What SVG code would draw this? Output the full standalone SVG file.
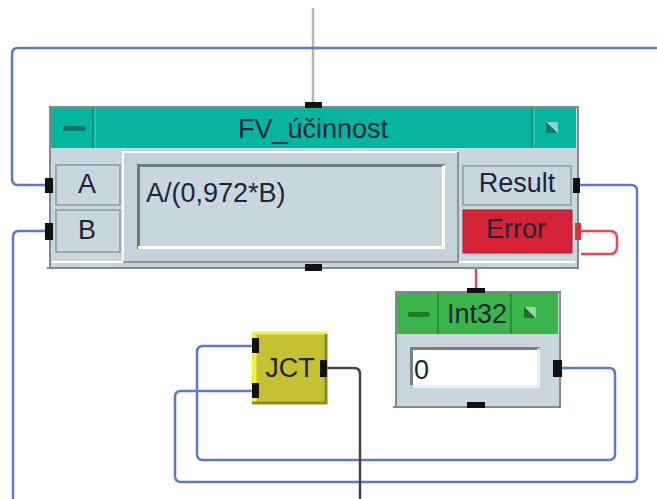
<svg xmlns="http://www.w3.org/2000/svg" width="657" height="499" viewBox="0 0 657 499">
<style>
.w{fill:none;stroke:#5f79c8;stroke-width:2.5}
.r{fill:none;stroke:#e8475a;stroke-width:2.5}
.port{fill:#111}
.lbl{font-family:"Liberation Sans",Arial,sans-serif;font-size:27px;fill:#1c2636;stroke:currentColor;stroke-width:0}
.frame{fill:#c9d6de;stroke:#7f8d8f;stroke-width:2}
.btnbox{fill:#c9d6de;stroke:#8c9a9c;stroke-width:1.5}
</style>
<defs>
<linearGradient id="ic" x1="0" y1="1" x2="1" y2="0">
<stop offset="0.5" stop-color="#0a7a6b"/><stop offset="0.5" stop-color="#8fd3c8"/>
</linearGradient>
<linearGradient id="icg" x1="0" y1="1" x2="1" y2="0">
<stop offset="0.5" stop-color="#1d6e2a"/><stop offset="0.5" stop-color="#93d49a"/>
</linearGradient>
</defs>

<g id="connectors">
<path d="M313 8V102" fill="none" stroke="#b5b5b5" stroke-width="2.5"/>
<path class="w" d="M657 48H18Q12 48 12 54V179Q12 185 18 185H45"/>
<path class="w" d="M45 231H19Q13 231 13 237V499"/>
<path class="w" d="M580 185H631Q637 185 637 191V476Q637 482 631 482H181Q175 482 175 476V397Q175 391 181 391H252"/>
<path class="w" d="M562 368H609Q615 368 615 374V454Q615 460 609 460H203Q197 460 197 454V352Q197 346 203 346H252"/>
<path d="M327 368H354Q360 368 360 374V499" fill="none" stroke="#444" stroke-width="2.5"/>
<path class="r" d="M581 231H610Q617 231 617 239V246Q617 254 610 254H581"/>
<path class="r" d="M476 268V289"/>
</g>

<g id="fv_ucinnost">
<rect class="frame" x="50" y="107" width="528" height="161"/>
<path d="M47 268H578" stroke="#7f8d8f" stroke-width="2"/>
<path d="M52 262H575" stroke="#fff" stroke-width="2"/>
<rect x="51" y="108" width="525" height="40" fill="#06b5a0"/>
<path d="M93 108V148M532 108V148" stroke="#05907f" stroke-width="2"/>
<path d="M95 108V148M534 108V148" stroke="#4fd0c0" stroke-width="1"/>
<rect x="63" y="126" width="23" height="5" rx="2" fill="#0a7868"/>
<rect x="546" y="122" width="12" height="11" fill="url(#ic)"/>
<text class="lbl" x="313" y="138" text-anchor="middle" font-size="28" fill="#0c2a2c">FV_účinnost</text>
<rect class="btnbox" x="56" y="165" width="64" height="40"/>
<text class="lbl" x="87" y="193" text-anchor="middle">A</text>
<rect class="btnbox" x="56" y="210" width="64" height="42"/>
<text class="lbl" x="87" y="239" text-anchor="middle">B</text>
<rect x="123" y="152" width="335" height="110" fill="#c5d2da"/>
<path d="M123 262V152H458" fill="none" stroke="#fff" stroke-width="2"/>
<path d="M458 152V262H123" fill="none" stroke="#8a9799" stroke-width="2"/>
<rect x="137" y="164" width="308" height="85" fill="#c9d6de"/>
<path d="M138.5 249V165.5H445" fill="none" stroke="#707b7d" stroke-width="3"/>
<path d="M443.5 165.5V247.5H138" fill="none" stroke="#fff" stroke-width="3"/>
<text class="lbl" x="146" y="202" fill="#111">A/(0,972*B)</text>
<rect class="btnbox" x="463" y="166" width="108" height="39"/>
<text class="lbl" x="517" y="192" text-anchor="middle">Result</text>
<rect x="463" y="210" width="109" height="43" fill="#d62236" stroke="#a8202c" stroke-width="1"/>
<text class="lbl" x="516" y="238" text-anchor="middle" fill="#3a0a10">Error</text>
<rect class="port" x="305" y="102" width="17" height="6"/>
<rect class="port" x="305" y="264" width="17" height="7"/>
<rect class="port" x="45" y="178" width="8" height="15"/>
<rect class="port" x="45" y="223" width="8" height="17"/>
<rect class="port" x="573" y="178" width="7" height="15"/>
<rect x="575" y="223" width="6" height="17" fill="#e0303c"/>
</g>

<g id="int32">
<rect class="frame" x="396" y="292" width="164" height="115"/>
<rect x="397" y="293" width="161" height="41" fill="#3bb54a"/>
<path d="M438 293V334M511 293V334" stroke="#26913a" stroke-width="2"/>
<rect x="408" y="312" width="22" height="5" rx="2" fill="#1f7a2c"/>
<rect x="524" y="307" width="12" height="11" fill="url(#icg)"/>
<text class="lbl" x="477" y="323" text-anchor="middle" fill="#0e2a14">Int32</text>
<rect x="410" y="347" width="130" height="41" fill="#fff"/>
<path d="M411.5 388V348.5H540" fill="none" stroke="#7a7f80" stroke-width="3"/>
<path d="M410 386.5H538.5V348" fill="none" stroke="#e3ecef" stroke-width="2"/>
<text class="lbl" x="414" y="379" fill="#2a3050">0</text>
<path d="M393 407H560" stroke="#7f8d8f" stroke-width="2"/>
<rect class="port" x="467" y="288" width="18" height="5"/>
<rect class="port" x="467" y="402" width="18" height="6"/>
<rect class="port" x="553" y="360" width="9" height="17"/>
</g>

<g id="jct">
<rect x="252" y="333" width="75" height="70" fill="#c4c232"/>
<path d="M252 333H327" stroke="#f2f03c" stroke-width="3"/>
<path d="M254 333V403" stroke="#f2f03c" stroke-width="5"/>
<path d="M326 334V403H252" fill="none" stroke="#8f8c20" stroke-width="3"/>
<text class="lbl" x="290" y="377" text-anchor="middle" font-size="28" fill="#2a2a10">JCT</text>
<rect class="port" x="252" y="338" width="7" height="15"/>
<rect class="port" x="252" y="383" width="7" height="15"/>
<rect class="port" x="320" y="360" width="7" height="17"/>
</g>
</svg>
